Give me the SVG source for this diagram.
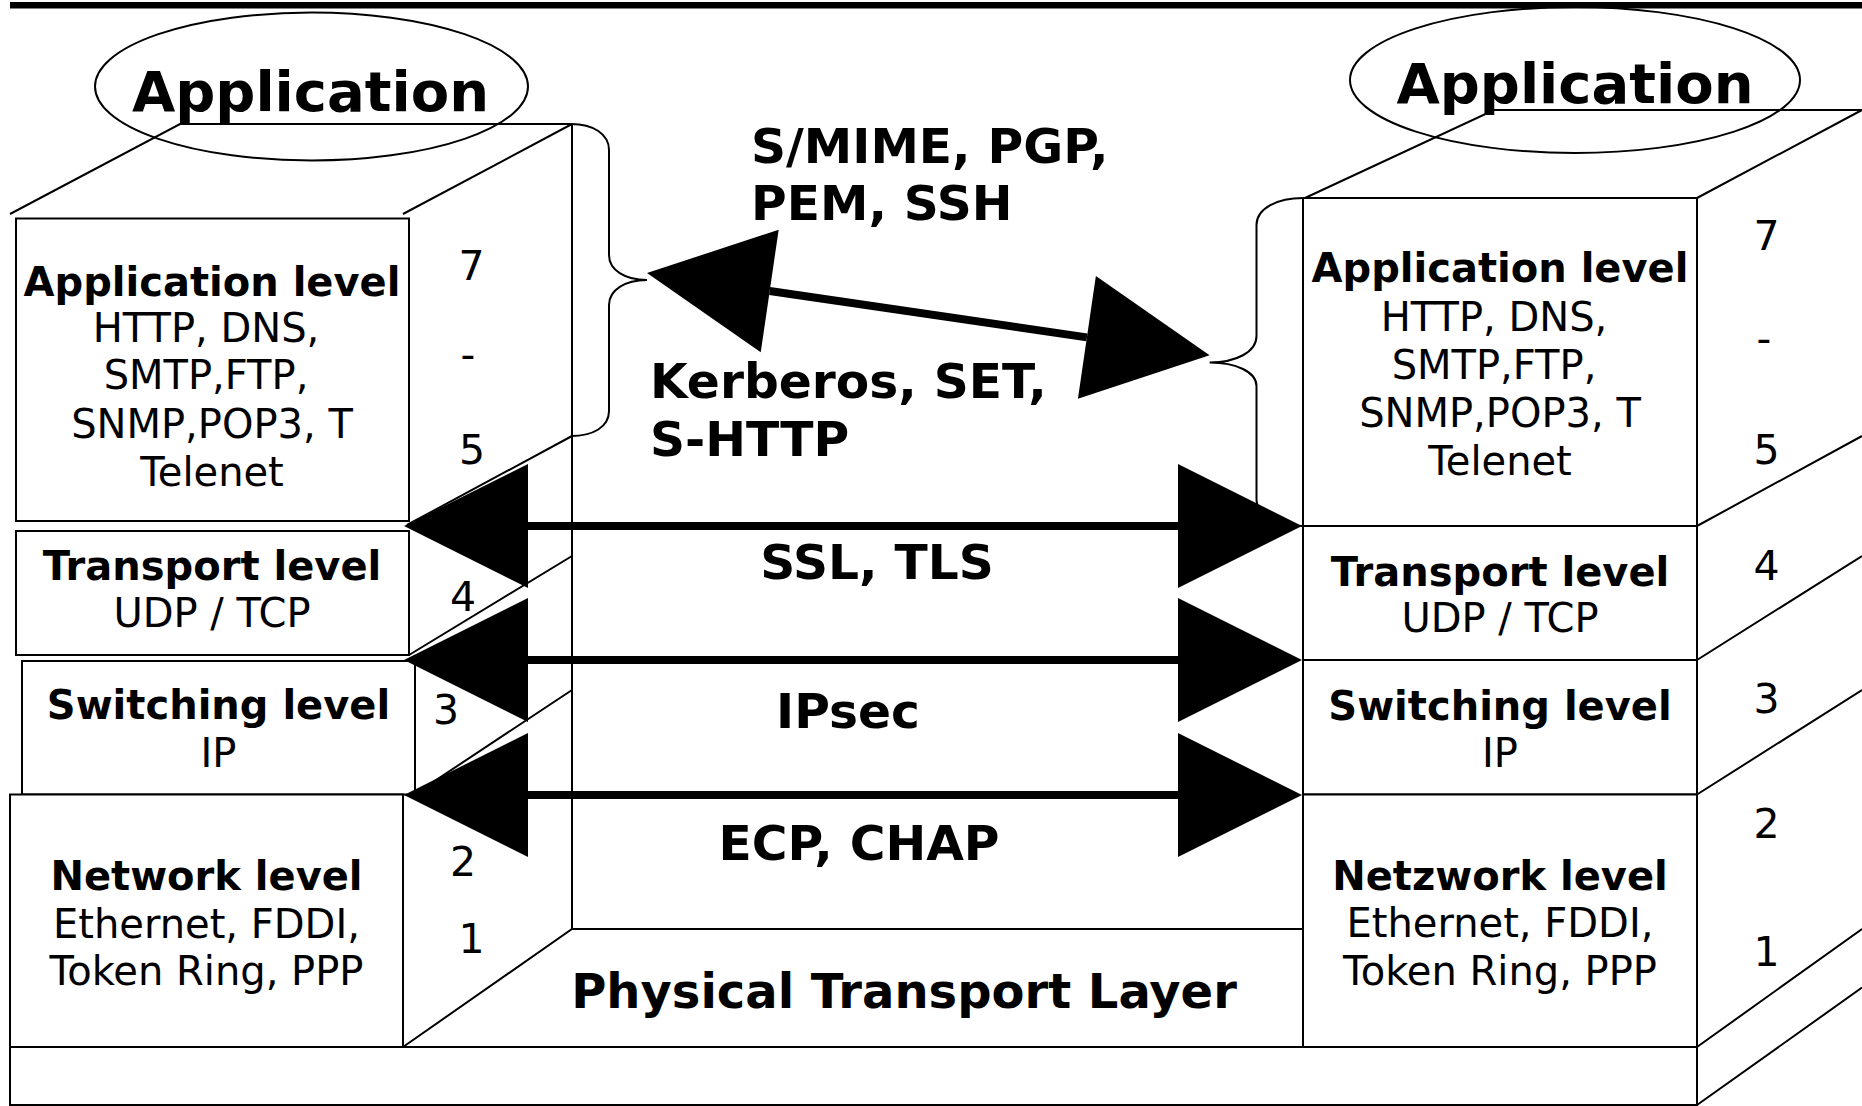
<svg xmlns="http://www.w3.org/2000/svg" width="1862" height="1106" viewBox="0 0 1862 1106">
  <style>
    .ln { fill: none; stroke: #000; stroke-width: 2; }
    .box { fill: #fff; stroke: #000; stroke-width: 2; }
    .hd { font-family: "DejaVu Sans", "Liberation Sans", sans-serif; font-weight: bold; font-size: 56px; text-anchor: middle; }
    .ttl { font-family: "DejaVu Sans", "Liberation Sans", sans-serif; font-weight: bold; font-size: 40px; text-anchor: middle; }
    .txt { font-family: "DejaVu Sans", "Liberation Sans", sans-serif; font-size: 40px; text-anchor: middle; }
    .num { font-family: "DejaVu Sans", "Liberation Sans", sans-serif; font-size: 41px; text-anchor: middle; }
    .proto { font-family: "DejaVu Sans", "Liberation Sans", sans-serif; font-weight: bold; font-size: 48.7px; }
    .phys { font-family: "DejaVu Sans", "Liberation Sans", sans-serif; font-weight: bold; font-size: 48px; text-anchor: middle; }
    .shaft { fill: none; stroke: #000; stroke-width: 8; marker-start: url(#head); marker-end: url(#head); }
  </style>
  <defs>
    <marker id="head" markerUnits="userSpaceOnUse" viewBox="0 -62 124 124" markerWidth="124" markerHeight="124" refX="0" refY="0" orient="auto-start-reverse" overflow="visible">
      <path d="M0,-62 L124,0 L0,62 Z" fill="#000"/>
    </marker>
  </defs>

  <rect x="0" y="0" width="1862" height="1106" fill="#fff"/>
  <!-- heavy rule along the top edge -->
  <rect x="10" y="2" width="1852" height="6.5" fill="#000"/>

  <!-- ===== left stack ===== -->
  <g id="left-frame">
    <path class="ln" d="M10,214 L180,124 L572,124 M403,214 L572,124"/>
    <path class="ln" d="M407,525 L572,436 M409,655 L572,556 M415,794 L572,690"/>
    <path class="ln" d="M572,124 L572,929"/>
    <path class="ln" d="M571,124 C593,124 609,134 609,150 L609,255 C609,270 625,280 647,280 C625,280 609,290 609,305 L609,411 C609,427 593,436 571,436"/>
  </g>

  <g id="left-application">
    <rect class="box" x="16" y="218.5" width="393" height="302.5"/>
    <text class="ttl" x="212" y="295.5">Application level</text>
    <text class="txt" x="206" y="342">HTTP, DNS,</text>
    <text class="txt" x="206" y="389">SMTP,FTP,</text>
    <text class="txt" x="212" y="438">SNMP,POP3, T</text>
    <text class="txt" x="212" y="486">Telenet</text>
  </g>
  <g id="left-transport">
    <rect class="box" x="16" y="531" width="393" height="124"/>
    <text class="ttl" x="212" y="580">Transport level</text>
    <text class="txt" x="212" y="627">UDP / TCP</text>
  </g>
  <g id="left-switching">
    <rect class="box" x="22" y="661" width="393" height="133.5"/>
    <text class="ttl" x="218.5" y="719">Switching level</text>
    <text class="txt" x="218.5" y="767">IP</text>
  </g>
  <g id="left-network">
    <rect class="box" x="10" y="794.5" width="393" height="252.5"/>
    <text class="ttl" x="206.5" y="890">Network level</text>
    <text class="txt" x="206.5" y="938">Ethernet, FDDI,</text>
    <text class="txt" x="206.5" y="985">Token Ring, PPP</text>
  </g>
  <g id="left-layer-numbers">
    <text class="num" x="471.5" y="280">7</text>
    <text class="num" x="468" y="369">-</text>
    <text class="num" x="472" y="464">5</text>
    <text class="num" x="463" y="611">4</text>
    <text class="num" x="446" y="724">3</text>
    <text class="num" x="463" y="876">2</text>
    <text class="num" x="471.5" y="953">1</text>
  </g>
  <g id="left-header">
    <ellipse class="ln" cx="311.5" cy="86.5" rx="216.5" ry="74"/>
    <text class="hd" x="310.5" y="110.5">Application</text>
  </g>

  <!-- ===== physical layer and base ===== -->
  <g id="physical-layer">
    <path class="ln" d="M403,1047 L572,929 L1303,929"/>
    <text class="phys" x="904" y="1007.5">Physical Transport Layer</text>
  </g>
  <g id="base">
    <rect class="box" x="10" y="1047" width="1687" height="58"/>
  </g>

  <!-- ===== right stack ===== -->
  <g id="right-frame">
    <path class="ln" d="M1305,198 L1494,110 L1862,110 M1697,198 L1862,110"/>
    <path class="ln" d="M1697,526 L1862,436 M1697,660 L1862,556 M1697,794.5 L1862,690 M1697,1047 L1862,929 M1697,1105 L1862,987.6"/>
    <path class="ln" d="M1303,198 C1278,198 1256.5,208 1256.5,225 L1256.5,336 C1256.5,352 1236,362.5 1209.6,362.5 C1236,362.5 1256.5,372 1256.5,386 L1256.5,499 C1256.5,515 1278,526 1303,526"/>
  </g>
  <g id="right-application">
    <rect class="box" x="1303" y="198" width="394" height="328"/>
    <text class="ttl" x="1500" y="282">Application level</text>
    <text class="txt" x="1494" y="330.5">HTTP, DNS,</text>
    <text class="txt" x="1494" y="378.5">SMTP,FTP,</text>
    <text class="txt" x="1500" y="427">SNMP,POP3, T</text>
    <text class="txt" x="1500" y="475">Telenet</text>
  </g>
  <g id="right-transport">
    <rect class="box" x="1303" y="526" width="394" height="134"/>
    <text class="ttl" x="1500" y="586">Transport level</text>
    <text class="txt" x="1500" y="632">UDP / TCP</text>
  </g>
  <g id="right-switching">
    <rect class="box" x="1303" y="660" width="394" height="134.5"/>
    <text class="ttl" x="1500" y="720">Switching level</text>
    <text class="txt" x="1500" y="767">IP</text>
  </g>
  <g id="right-network">
    <rect class="box" x="1303" y="794.5" width="394" height="252.5"/>
    <text class="ttl" x="1500" y="889.5">Netzwork level</text>
    <text class="txt" x="1500" y="937">Ethernet, FDDI,</text>
    <text class="txt" x="1500" y="985">Token Ring, PPP</text>
  </g>
  <g id="right-layer-numbers">
    <text class="num" x="1766.5" y="250">7</text>
    <text class="num" x="1764" y="353">-</text>
    <text class="num" x="1766.5" y="464">5</text>
    <text class="num" x="1766.5" y="580">4</text>
    <text class="num" x="1766.5" y="713">3</text>
    <text class="num" x="1766.5" y="838">2</text>
    <text class="num" x="1766.5" y="966">1</text>
  </g>
  <g id="right-header">
    <ellipse class="ln" cx="1575" cy="80" rx="225" ry="73"/>
    <text class="hd" x="1575" y="103">Application</text>
  </g>

  <!-- ===== protocol labels ===== -->
  <g id="labels">
    <text class="proto" x="751" y="162.5">S/MIME, PGP,</text>
    <text class="proto" x="751" y="219.5">PEM, SSH</text>
    <text class="proto" x="650" y="398">Kerberos, SET,</text>
    <text class="proto" x="650" y="455.5">S-HTTP</text>
    <text class="proto" x="877" y="579" text-anchor="middle">SSL, TLS</text>
    <text class="proto" x="848" y="727.5" text-anchor="middle">IPsec</text>
    <text class="proto" x="859" y="859.5" text-anchor="middle">ECP, CHAP</text>
  </g>

  <!-- ===== peer-to-peer connections ===== -->
  <g id="connectors">
    <line class="shaft" x1="769.7" y1="291" x2="1086.9" y2="337.4"/>
    <line class="shaft" x1="528" y1="526" x2="1178" y2="526"/>
    <line class="shaft" x1="528" y1="660" x2="1178" y2="660"/>
    <line class="shaft" x1="528" y1="795" x2="1178" y2="795"/>
  </g>
</svg>
